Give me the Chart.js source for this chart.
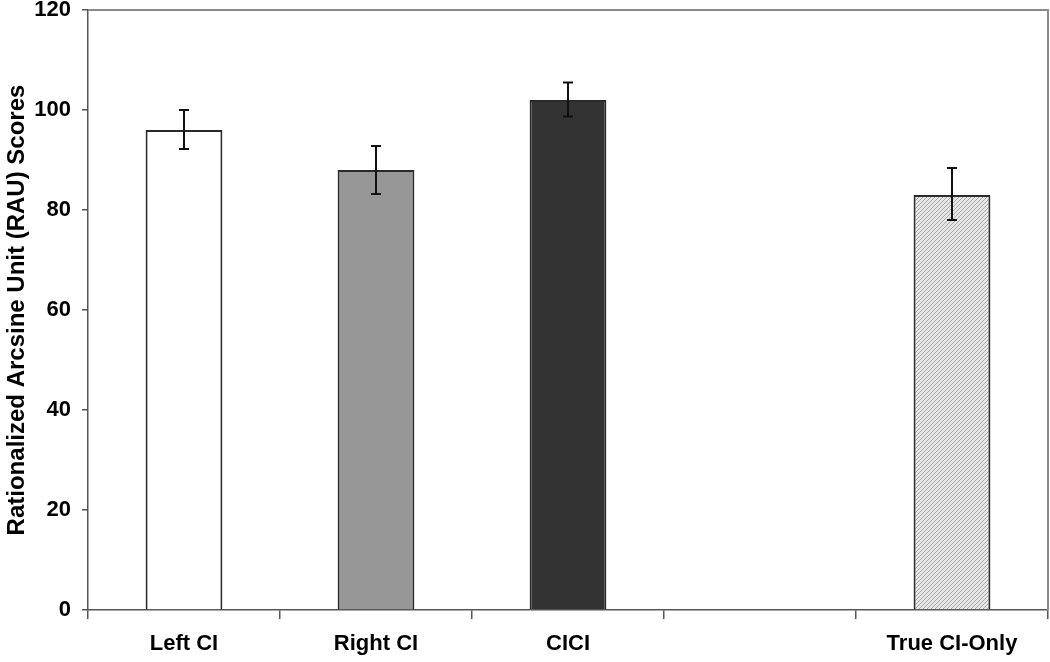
<!DOCTYPE html>
<html>
<head>
<meta charset="utf-8">
<script src="https://cdn.jsdelivr.net/npm/chart.js@4.4.1/dist/chart.umd.min.js"></script>
<style>
  html, body { margin: 0; padding: 0; background: #fff; }
  #wrap { width: 1050px; height: 662px; }
</style>
</head>
<body>
<div id="wrap"><canvas id="rau-chart"></canvas></div>
<script>
// groups along the x axis (the fourth slot is left empty in the original)
const categories = ['Left CI', 'Right CI', 'CICI', '', 'True CI-Only']
const scores = [96, 88, 102, null, 83]
const errLow = [92.2, 83.2, 98.7, null, 78]
const errHigh = [100, 92.8, 105.5, null, 88.4]
const yTicks = [0, 20, 40, 60, 80, 100, 120]

function hatch() {
    const c = document.createElement('canvas')
    c.width = 4
    c.height = 4
    const g = c.getContext('2d')
    g.fillStyle = '#e6e6e6'
    g.fillRect(0, 0, 4, 4)
    g.strokeStyle = '#a8a8a8'
    g.lineWidth = 1
    g.beginPath()
    g.moveTo(0, 4); g.lineTo(4, 0)
    g.moveTo(-1, 1); g.lineTo(1, -1)
    g.moveTo(3, 5); g.lineTo(5, 3)
    g.stroke()
    return g.createPattern(c, 'repeat')
}

const fills = ['#ffffff', '#979797', '#333333', '#ffffff', hatch()]

// error bars + the grey frame on top/right
const extras = {
    id: 'extras',
    afterDatasetsDraw(chart) {
        const ctx = chart.ctx
        const y = chart.scales.y
        const meta = chart.getDatasetMeta(0)
        ctx.save()
        ctx.strokeStyle = '#111'
        ctx.lineWidth = 2
        meta.data.forEach((bar, i) => {
            if (scores[i] == null) return
            const top = y.getPixelForValue(errHigh[i])
            const bot = y.getPixelForValue(errLow[i])
            ctx.beginPath()
            ctx.moveTo(bar.x, top); ctx.lineTo(bar.x, bot)
            ctx.moveTo(bar.x - 5, top); ctx.lineTo(bar.x + 5, top)
            ctx.moveTo(bar.x - 5, bot); ctx.lineTo(bar.x + 5, bot)
            ctx.stroke()
        })
        const a = chart.chartArea
        ctx.strokeStyle = '#8a8a8a'
        ctx.lineWidth = 2
        ctx.beginPath()
        ctx.moveTo(a.left, a.top); ctx.lineTo(a.right, a.top); ctx.lineTo(a.right, a.bottom)
        ctx.stroke()
        ctx.restore()
    }
}

const tickFont = { family: '"Liberation Sans", Arial, sans-serif', size: 22, weight: 'bold' }

new Chart(document.querySelector('#rau-chart'), {
    type: 'bar',
    data: {
        labels: categories,
        datasets: [{
            data: scores,
            backgroundColor: fills,
            borderColor: '#2a2a2a',
            borderWidth: 2,
            categoryPercentage: 1,
            barPercentage: 0.4
        }]
    },
    options: {
        responsive: true,
        maintainAspectRatio: false,
        animation: false,
        layout: { padding: { top: 10, right: 2, left: 0, bottom: 0 } },
        plugins: { legend: { display: false }, tooltip: { enabled: false } },
        scales: {
            x: {
                afterFit: s => { s.height = 52 },
                grid: { offset: true, drawOnChartArea: false, tickLength: 9, color: '#555', lineWidth: 1.5 },
                border: { color: '#555', width: 1.5 },
                ticks: { color: '#000', font: tickFont, padding: 12 }
            },
            y: {
                min: 0,
                max: 120,
                afterBuildTicks: s => { s.ticks = yTicks.map(v => ({ value: v })) },
                afterFit: s => { s.width = 88; s.paddingTop = 0 },
                grid: { drawOnChartArea: false, tickLength: 6, color: '#555', lineWidth: 1.5 },
                border: { color: '#555', width: 1.5 },
                ticks: { color: '#000', font: tickFont, padding: 11 },
                title: {
                    display: true,
                    text: 'Rationalized Arcsine Unit (RAU) Scores',
                    color: '#000',
                    font: { ...tickFont, size: 24 },
                    padding: { top: 3, bottom: 0 }
                }
            }
        }
    },
    plugins: [extras]
})
</script>
</body>
</html>
